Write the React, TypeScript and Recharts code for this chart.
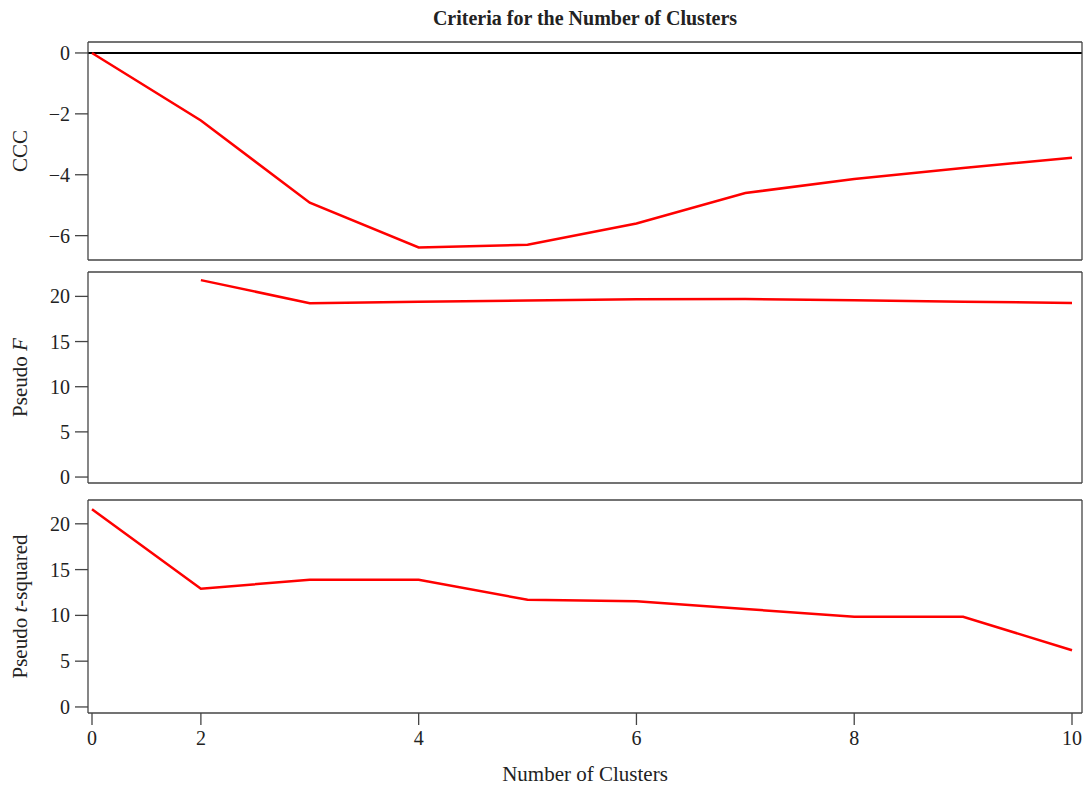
import React from 'react';
import { LineChart, Line, XAxis, YAxis, ReferenceLine } from 'recharts';

// ---- data ----
const CLUSTERS = [0, 2, 3, 4, 5, 6, 7, 8, 9, 10];
const CCC = [0, -2.22, -4.92, -6.39, -6.3, -5.6, -4.6, -4.14, -3.78, -3.44];
const PSEUDO_F: (number | null)[] = [null, 21.8, 19.25, 19.4, 19.55, 19.68, 19.7, 19.57, 19.42, 19.26];
const PSEUDO_T2 = [21.6, 12.9, 13.9, 13.9, 11.7, 11.55, 10.7, 9.84, 9.84, 6.2];

const X_TICKS = [0, 2, 4, 6, 8, 10];
const CCC_TICKS = [-6, -4, -2, 0];
const F_TICKS = [0, 5, 10, 15, 20];
const T2_TICKS = [0, 5, 10, 15, 20];

const data = CLUSTERS.map((k, i) => ({ k, ccc: CCC[i], f: PSEUDO_F[i], t2: PSEUDO_T2[i] }));

// ---- styles ----
const FONT = '"Liberation Serif", "DejaVu Serif", serif';
const FRAME = '#444';
const RED = '#ff0000';
const TEXT = '#222';

const fmt = (v: number) => (v < 0 ? `\u2212${-v}` : `${v}`);

const YLabel = (props: any) => {
  const { viewBox, main, italic, rest } = props;
  const cx = (viewBox?.x ?? 0) + 20;
  const cy = (viewBox?.y ?? 0) + (viewBox?.height ?? 0) / 2;
  return (
    <text
      x={cx}
      y={cy}
      transform={`rotate(-90 ${cx} ${cy})`}
      textAnchor="middle"
      dominantBaseline="central"
      fontFamily={FONT}
      fontSize={21}
      fill={TEXT}
    >
      <tspan>{main}</tspan>
      {italic ? <tspan fontStyle="italic">{italic}</tspan> : null}
      {rest ? <tspan>{rest}</tspan> : null}
    </text>
  );
};

type PanelProps = {
  top: number;
  height: number;
  marginTop: number;
  marginBottom: number;
  dataKey: string;
  domain: [number, number];
  ticks: number[];
  label: { main: string; italic?: string; rest?: string };
  bottom?: boolean;
  zeroLine?: boolean;
};

const frameLine = { stroke: FRAME, strokeWidth: 1.3 };

const Panel = ({ top, height, marginTop, marginBottom, dataKey, domain, ticks, label, bottom, zeroLine }: PanelProps) => (
  <div style={{ position: 'absolute', left: 0, top, width: 1089, height }}>
    <LineChart width={1089} height={height} data={data} margin={{ top: marginTop, right: 6, bottom: marginBottom, left: 0 }}>
      <XAxis xAxisId="t" orientation="top" height={1} tick={false} tickLine={false} axisLine={frameLine} />
      <YAxis yAxisId="r" orientation="right" width={1} tick={false} tickLine={false} axisLine={frameLine} />
      {bottom ? (
        <XAxis
          xAxisId="b"
          dataKey="k"
          type="category"
          padding={{ left: 4, right: 10 }}
          ticks={X_TICKS}
          interval={0}
          height={72}
          tickSize={12}
          tickMargin={6}
          axisLine={frameLine}
          tickLine={frameLine}
          tick={{ fill: TEXT, fontSize: 20, fontFamily: FONT }}
          label={{ value: 'Number of Clusters', position: 'insideBottom', offset: 4, fill: TEXT, fontSize: 21, fontFamily: FONT }}
        />
      ) : (
        <XAxis
          xAxisId="b"
          dataKey="k"
          type="category"
          padding={{ left: 4, right: 10 }}
          height={1}
          tick={false}
          tickLine={false}
          axisLine={frameLine}
        />
      )}
      <YAxis
        yAxisId="l"
        type="number"
        width={88}
        domain={domain}
        ticks={ticks}
        interval={0}
        allowDataOverflow
        tickSize={13}
        tickMargin={5}
        tickFormatter={fmt}
        axisLine={frameLine}
        tickLine={frameLine}
        tick={{ fill: TEXT, fontSize: 20, fontFamily: FONT }}
        label={<YLabel main={label.main} italic={label.italic} rest={label.rest} />}
      />
      {zeroLine ? <ReferenceLine y={0} xAxisId="b" yAxisId="l" stroke="#000" strokeWidth={2} /> : null}
      <Line
        xAxisId="b"
        yAxisId="l"
        type="linear"
        dataKey={dataKey}
        stroke={RED}
        strokeWidth={2.5}
        dot={false}
        activeDot={false}
        isAnimationActive={false}
      />
    </LineChart>
  </div>
);

export default function App() {
  return (
    <div style={{ position: 'absolute', left: 0, top: 0, width: 1089, height: 785, background: '#fff', overflow: 'hidden' }}>
      <div
        style={{
          position: 'absolute',
          left: 88,
          width: 994,
          top: 5,
          textAlign: 'center',
          fontFamily: FONT,
          fontWeight: 'bold',
          fontSize: 20,
          color: TEXT,
          lineHeight: '26px',
        }}
      >
        Criteria for the Number of Clusters
      </div>
      <Panel top={0} height={268} marginTop={41} marginBottom={7} dataKey="ccc" domain={[-6.8, 0.36]} ticks={CCC_TICKS} label={{ main: 'CCC' }} zeroLine />
      <Panel top={262} height={230} marginTop={9} marginBottom={8} dataKey="f" domain={[-0.66, 22.7]} ticks={F_TICKS} label={{ main: 'Pseudo ', italic: 'F' }} />
      <Panel top={490} height={295} marginTop={9} marginBottom={0} dataKey="t2" domain={[-0.66, 22.6]} ticks={T2_TICKS} label={{ main: 'Pseudo ', italic: 't', rest: '-squared' }} bottom />
    </div>
  );
}
